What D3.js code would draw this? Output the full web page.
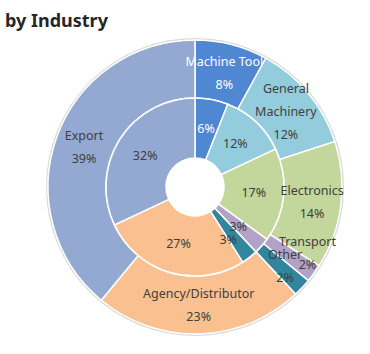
<!DOCTYPE html>
<html>
<head>
<meta charset="utf-8">
<script src="https://cdn.jsdelivr.net/npm/d3@7"></script>
<style>
  body { margin: 0; background: #fff; }
  svg { display: block; }
  text { font-family: "Noto Sans", "DejaVu Sans", sans-serif; }
</style>
</head>
<body>
<svg id="chart" width="370" height="354"></svg>
<script>
// two-ring donut: outer and inner share the same categories
const categories = ["Machine Tool", "General Machinery", "Electronics", "Transport", "Other", "Agency/Distributor", "Export"];
const outerValues = [8, 12, 14, 2, 2, 23, 39];
const innerValues = [6, 12, 17, 3, 3, 27, 32];
const colors = ["#4f87d3", "#93cddd", "#c3d69b", "#b3a2c7", "#31859c", "#fac090", "#94a9d1"];
// label lines for outer ring (wrapped as in the original)
const outerLabelLines = [["Machine Tool"], ["General", "Machinery"], ["Electronics"], ["Transport"], ["Other"], ["Agency/Distributor"], ["Export"]];
const whiteLabel = ["Machine Tool"];

const svg = d3.select("svg#chart");
const cx = 195, cy = 187;
const rHole = 29, rMid = 89, rOuter = 147;
const lineGap = 23;
// small nudges where the original moved crowded labels
const outerNudge = { "Transport": [17, -3], "Other": [4, -2] };
const innerNudge = { "Transport": [-1, 1], "Other": [-3, 6] };

svg.append("text")
    .text("by Industry")
    .attr("x", 5)
    .attr("y", 27)
    .style("font-size", "18px")
    .style("font-weight", "bold")
    .attr("fill", "#262626");

let chart = svg.append("g").attr("transform", `translate(${cx}, ${cy})`);

// faint edge around the outer ring
chart.append("circle")
    .attr("r", rOuter + 1)
    .attr("fill", "none")
    .attr("stroke", "#d9d9d9")
    .attr("stroke-width", 2);

const pie = d3.pie().sort(null).value((d) => d.value);

function ringData(values) {
    return pie(values.map((v, i) => ({ name: categories[i], value: v, i: i })));
}

const outerArc = d3.arc().innerRadius(rMid).outerRadius(rOuter);
const innerArc = d3.arc().innerRadius(rHole).outerRadius(rMid);

chart.selectAll("path.outer")
    .data(ringData(outerValues))
    .join("path")
    .attr("class", "outer")
    .attr("d", outerArc)
    .attr("fill", (d) => colors[d.data.i])
    .attr("stroke", "#fff")
    .attr("stroke-width", 1.5);

chart.selectAll("path.inner")
    .data(ringData(innerValues))
    .join("path")
    .attr("class", "inner")
    .attr("d", innerArc)
    .attr("fill", (d) => colors[d.data.i])
    .attr("stroke", "#fff")
    .attr("stroke-width", 1.5);

// outer labels: name lines + percent
chart.selectAll("text.outer-label")
    .data(ringData(outerValues))
    .join("text")
    .attr("class", "outer-label")
    .attr("text-anchor", "middle")
    .style("font-size", "12.5px")
    .attr("fill", (d) => whiteLabel.includes(d.data.name) ? "#fff" : "#404040")
    .each(function (d) {
        let [x, y] = outerArc.centroid(d);
        const nudge = outerNudge[d.data.name] || [0, 0];
        x += nudge[0];
        y += nudge[1];
        const lines = outerLabelLines[d.data.i].concat([d.data.value + "%"]);
        const top = y - ((lines.length - 1) * lineGap) / 2;
        d3.select(this)
            .selectAll("tspan")
            .data(lines)
            .join("tspan")
            .attr("x", x)
            .attr("y", (l, k) => top + k * lineGap)
            .attr("dy", "0.35em")
            .text((l) => l);
    });

// inner labels: percent only
chart.selectAll("text.inner-label")
    .data(ringData(innerValues))
    .join("text")
    .attr("class", "inner-label")
    .attr("text-anchor", "middle")
    .attr("dy", "0.35em")
    .style("font-size", "12.5px")
    .attr("fill", (d) => whiteLabel.includes(d.data.name) ? "#fff" : "#404040")
    .attr("x", (d) => innerArc.centroid(d)[0] + (innerNudge[d.data.name] || [0, 0])[0])
    .attr("y", (d) => innerArc.centroid(d)[1] + (innerNudge[d.data.name] || [0, 0])[1])
    .text((d) => d.data.value + "%");
</script>
</body>
</html>
